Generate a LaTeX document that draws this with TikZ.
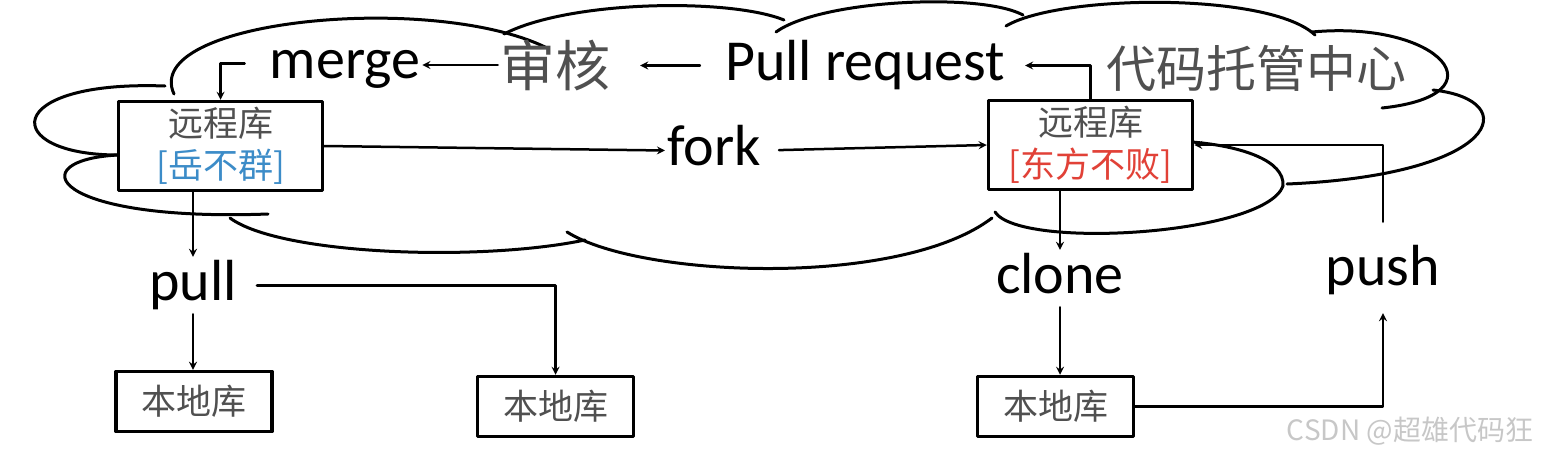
\documentclass[tikz,border=0pt]{standalone}
\usepackage{fontspec}
\setmainfont{Carlito}
\newfontfamily\cjk{Noto Sans CJK SC}
\definecolor{yueblue}{RGB}{60,140,200}
\definecolor{dfred}{RGB}{225,65,55}
\definecolor{cjkgray}{RGB}{80,80,80}
\begin{document}
\begin{tikzpicture}[>=stealth,line join=round,line cap=round,x=1pt,y=-1pt,
	cloud/.style={line width=3pt},
	conn/.style={->,line width=2.5pt},
	word/.style={font=\fontsize{58}{60}\selectfont,inner sep=2pt,text height=41pt,text depth=12pt,anchor=base},
	han/.style={font=\cjk\fontsize{#1}{#1}\selectfont,text=cjkgray,inner sep=2pt},
	repo/.style={draw,fill=white,line width=3.5pt,minimum width=204pt,minimum height=89pt,align=center,inner sep=0pt,font=\cjk\fontsize{35}{42}\selectfont},
	local/.style={draw,fill=white,line width=3.5pt,minimum width=156pt,minimum height=60pt,font=\cjk\fontsize{35}{42}\selectfont,text=cjkgray}]
		\useasboundingbox (0,0) rectangle (1542,458);
		\foreach \xa/\ya/\xb/\yb/\xc/\yc/\xd/\yd in {174/94/140/20/430/-8/545/47,504/34/570/0/730/-2/784/20,776/32/820/0/980/-8/1023/15,1006/26/1060/-6/1270/-8/1315/35,1312/32/1440/20/1505/95/1382/108,1433/90/1525/100/1500/175/1287/184,1192/142/1240/146/1285/160/1283/186,1283/186/1265/235/1020/250/995/212,567/232/640/278/900/288/992/218,230/218/280/255/480/262/585/240,118/155/20/160/50/222/268/214,165/86/0/80/0/155/118/155}{\draw[cloud] (\xa,\ya) .. controls (\xb,\yb) and (\xc,\yc) .. (\xd,\yd);}
		\node[word] (merge) at (345,78) {merge};
		\node[han=55] (audit) at (555,65) {审核};
		\node[word] (pr) at (865,80) {Pull request};
		\node[han=50] (hub) at (1256,68) {代码托管中心};
		\node[repo] (lbox) at (220.5,146) {{\color{cjkgray}远程库}\\{\color{yueblue}[岳不群]}};
		\node[word] (fork) at (714,165) {fork};
		\node[repo] (rbox) at (1090.5,145) {{\color{cjkgray}远程库}\\{\color{dfred}[东方不败]}};
		\node[word] (pull) at (193,300) {pull};
		\node[word] (clone) at (1060,293) {clone};
		\node[word] (push) at (1383,285) {push};
		\node[local] (l1) at (194,401.5) {本地库};
		\node[local] (l2) at (555.5,406.5) {本地库};
		\node[local] (l3) at (1055.5,406.5) {本地库};
		\node[text=black!22,font=\cjk\fontsize{28}{30}\selectfont] (mark) at (1410,431) {CSDN @超雄代码狂};
		\draw[conn] ([xshift=-23pt]merge.west) -| (lbox.north);
		\draw[conn] (audit.west) -- (audit.west -| merge.east);
		\draw[conn,shorten <=23pt,shorten >=28pt] (pr.west) -- (pr.west -| audit.east);
		\draw[conn,shorten >=18pt] (rbox.north) |- (pr.east);
		\draw[conn] (lbox.east) -- (fork.west);
		\draw[conn,shorten <=16pt] (fork.east) -- (rbox.west);
		\draw[conn] (lbox.south -| pull.north) -- (pull.north);
		\draw[conn] (pull.south) -- (pull.south |- l1.north);
		\draw[conn,shorten <=18pt] (pull.east) -| (l2.north);
		\draw[conn] (rbox.south -| clone.north) -- (clone.north);
		\draw[conn] (clone.south) -- (clone.south |- l3.north);
		\draw[conn,shorten >=14pt] (l3.east) -| (push.south);
		\draw[conn,shorten <=20pt] (push.north) |- (rbox.east);
	\end{tikzpicture}
\end{document}
